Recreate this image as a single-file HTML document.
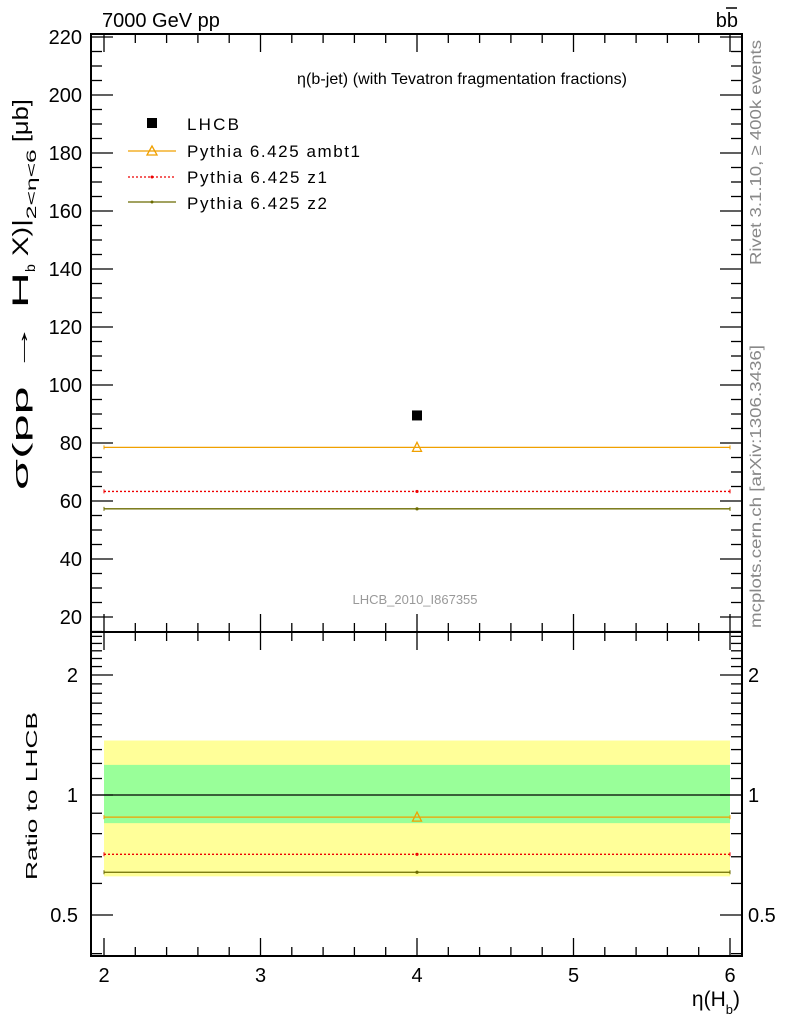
<!DOCTYPE html>
<html><head><meta charset="utf-8"><style>
html,body{margin:0;padding:0;background:#fff}
svg{display:block;font-family:"Liberation Sans",sans-serif}
</style></head><body>
<svg id="c" width="786" height="1024" viewBox="0 0 786 1024" xmlns="http://www.w3.org/2000/svg">
<g id="bands"></g>
<g id="ticks"></g>
<g id="series"></g>
<rect x="91" y="34" width="651" height="598" fill="none" stroke="#000" stroke-width="2"/>
<rect x="91" y="632" width="651" height="324" fill="none" stroke="#000" stroke-width="2"/>
<text x="102" y="27" font-size="20">7000 GeV pp</text>
<text x="738" y="27" font-size="20" text-anchor="end">bb</text>
<line x1="726" y1="8" x2="737" y2="8" stroke="#000" stroke-width="1.5"/>
<text x="462" y="84" font-size="16" text-anchor="middle" textLength="330">η(b-jet) (with Tevatron fragmentation fractions)</text>
<text x="415" y="604" font-size="13" fill="#999" text-anchor="middle">LHCB_2010_I867355</text>
<text transform="translate(761,265) rotate(-90)" font-size="16" fill="#888" textLength="225" lengthAdjust="spacingAndGlyphs">Rivet 3.1.10, ≥ 400k events</text>
<text transform="translate(761,628) rotate(-90)" font-size="16" fill="#888" textLength="283" lengthAdjust="spacingAndGlyphs">mcplots.cern.ch [arXiv:1306.3436]</text>
<text transform="translate(28,490) rotate(-90)" font-size="22"><tspan textLength="218" lengthAdjust="spacingAndGlyphs">σ(pp → H</tspan><tspan font-size="14" dy="7">b</tspan><tspan dy="-7" textLength="45" lengthAdjust="spacingAndGlyphs"> X)|</tspan><tspan font-size="14" dy="8" textLength="70" lengthAdjust="spacingAndGlyphs">2&lt;η&lt;6</tspan><tspan dy="-8" textLength="50" lengthAdjust="spacingAndGlyphs"> [μb]</tspan></text>
<text transform="translate(37,880) rotate(-90)" font-size="16" textLength="168" lengthAdjust="spacingAndGlyphs">Ratio to LHCB</text>
<text x="740" y="1006" font-size="21" text-anchor="end">η(H<tspan font-size="13" dy="8">b</tspan><tspan dy="-8">)</tspan></text>
<g>
<rect x="147" y="118" width="10" height="10" fill="#000"/>
<text x="187" y="130" font-size="17" textLength="52">LHCB</text>
<line x1="128" y1="151" x2="176" y2="151" stroke="#f0a000" stroke-width="1.3"/>
<polygon points="152,146 147,155 157,155" fill="none" stroke="#f0a000" stroke-width="1.3"/>
<text x="187" y="157" font-size="17" textLength="173">Pythia 6.425 ambt1</text>
<line x1="128" y1="177" x2="176" y2="177" stroke="#e00" stroke-width="1.3" stroke-dasharray="2,2"/>
<circle cx="152" cy="177" r="1.5" fill="#e00"/>
<text x="187" y="183" font-size="17" textLength="140">Pythia 6.425 z1</text>
<line x1="128" y1="202" x2="176" y2="202" stroke="#6b6b00" stroke-width="1.3"/>
<circle cx="152" cy="202" r="1.5" fill="#6b6b00"/>
<text x="187" y="209" font-size="17" textLength="140">Pythia 6.425 z2</text>
</g>
</svg>
<script>
const binEdges=[2,6];
const binCenters=[4];
const dataValues=[89.5];
const ambt1Values=[78.5];
const z1Values=[63.3];
const z2Values=[57.3];
const ambt1Ratio=[0.88];
const z1Ratio=[0.71];
const z2Ratio=[0.64];
const bandInner=[0.85,1.19];
const bandOuter=[0.625,1.37];
const xTicks=[2,3,4,5,6];
const yTicks=[20,40,60,80,100,120,140,160,180,200,220];
const rTicks=[0.5,1,2];

const NS="http://www.w3.org/2000/svg";
const X=v=>104+(v-2)*156.5;
const Y=v=>37+(220-v)*2.9;
const R=v=>795-Math.log2(v)*120;
function mk(p,t,a){const e=document.createElementNS(NS,t);for(const k in a)e.setAttribute(k,a[k]);document.getElementById(p).appendChild(e);return e;}

let e=mk('bands','rect',{x:X(binEdges[0]),y:R(bandOuter[1]),width:X(binEdges[1])-X(binEdges[0]),height:R(bandOuter[0])-R(bandOuter[1]),fill:'#ffff99'});


e=mk('bands','rect',{x:X(binEdges[0]),y:R(bandInner[1]),width:X(binEdges[1])-X(binEdges[0]),height:R(bandInner[0])-R(bandInner[1]),fill:'#99ff99'});


e=mk('bands','line',{x1:91,x2:742,y1:R(1),y2:R(1),stroke:'#000','stroke-width':1.3});



for(let v=2;v<=6.001;v+=0.2){
  const maj=Math.abs(v-Math.round(v))<1e-6, L=maj?18:9, x=X(v);
  for(const [y0,d] of [[34,1],[632,-1],[632,1],[956,-1]]){
    mk('ticks','line',{x1:x,x2:x,y1:y0,y2:y0+d*L,stroke:'#000','stroke-width':1.3});
  }
}
xTicks.forEach(v=>{const t=mk('ticks','text',{x:X(v),y:982,'font-size':20,'text-anchor':'middle'});t.textContent=v;

});
for(let v=15;v<=220;v+=5){const y=Y(v);if(y>632)continue;const maj=v%20===0,L=maj?22:11;
  mk('ticks','line',{x1:91,x2:91+L,y1:y,y2:y,stroke:'#000','stroke-width':1.3});
  mk('ticks','line',{x1:742,x2:742-L,y1:y,y2:y,stroke:'#000','stroke-width':1.3});}
yTicks.forEach(v=>{const t=mk('ticks','text',{x:82,y:Y(v)+7,'font-size':20,'text-anchor':'end'});t.textContent=v;

});
[0.4,0.5,0.6,0.7,0.8,0.9,1,1.1,1.2,1.3,1.4,1.5,1.6,1.7,1.8,1.9,2,2.1,2.2,2.3,2.4,2.5].forEach(v=>{const y=R(v);if(y<632||y>956)return;
  const L=rTicks.includes(v)?22:11;
  mk('ticks','line',{x1:91,x2:91+L,y1:y,y2:y,stroke:'#000','stroke-width':1.3});
  mk('ticks','line',{x1:742,x2:742-L,y1:y,y2:y,stroke:'#000','stroke-width':1.3});});
rTicks.forEach(v=>{let t=mk('ticks','text',{x:78,y:R(v)+7,'font-size':20,'text-anchor':'end'});t.textContent=v;


t=mk('ticks','text',{x:748,y:R(v)+7,'font-size':20});t.textContent=v;

});

function line(vals,sc,col,dash,name,tri){
  vals.forEach((v,i)=>{const y=sc(v),x0=X(binEdges[i]),x1=X(binEdges[i+1]),cx=X(binCenters[i]);
    const a={x1:x0,x2:x1,y1:y,y2:y,stroke:col,'stroke-width':1.3};if(dash)a['stroke-dasharray']='2,2';
    const l=mk('series','line',a);
    
    
    mk('series','line',{x1:x0,x2:x0,y1:y-2,y2:y+2,stroke:col});
    mk('series','line',{x1:x1,x2:x1,y1:y-2,y2:y+2,stroke:col});
    if(tri){mk('series','polygon',{points:`${cx},${y-5} ${cx-4.5},${y+4} ${cx+4.5},${y+4}`,fill:'none',stroke:col,'stroke-width':1.3});}
    else mk('series','circle',{cx:cx,cy:y,r:1.6,fill:col});
  });
}
line(ambt1Values,Y,'#f0a000',false,'ambt1-line',true);
line(z1Values,Y,'#e00',true,'z1-line',false);
line(z2Values,Y,'#6b6b00',false,'z2-line',false);
line(ambt1Ratio,R,'#f0a000',false,'ambt1-ratio-line',true);
line(z1Ratio,R,'#e00',true,'z1-ratio-line',false);
line(z2Ratio,R,'#6b6b00',false,'z2-ratio-line',false);
dataValues.forEach((v,i)=>{const r=mk('series','rect',{x:X(binCenters[i])-5,y:Y(v)-5,width:10,height:10,fill:'#000'});

});
</script>
</body></html>
